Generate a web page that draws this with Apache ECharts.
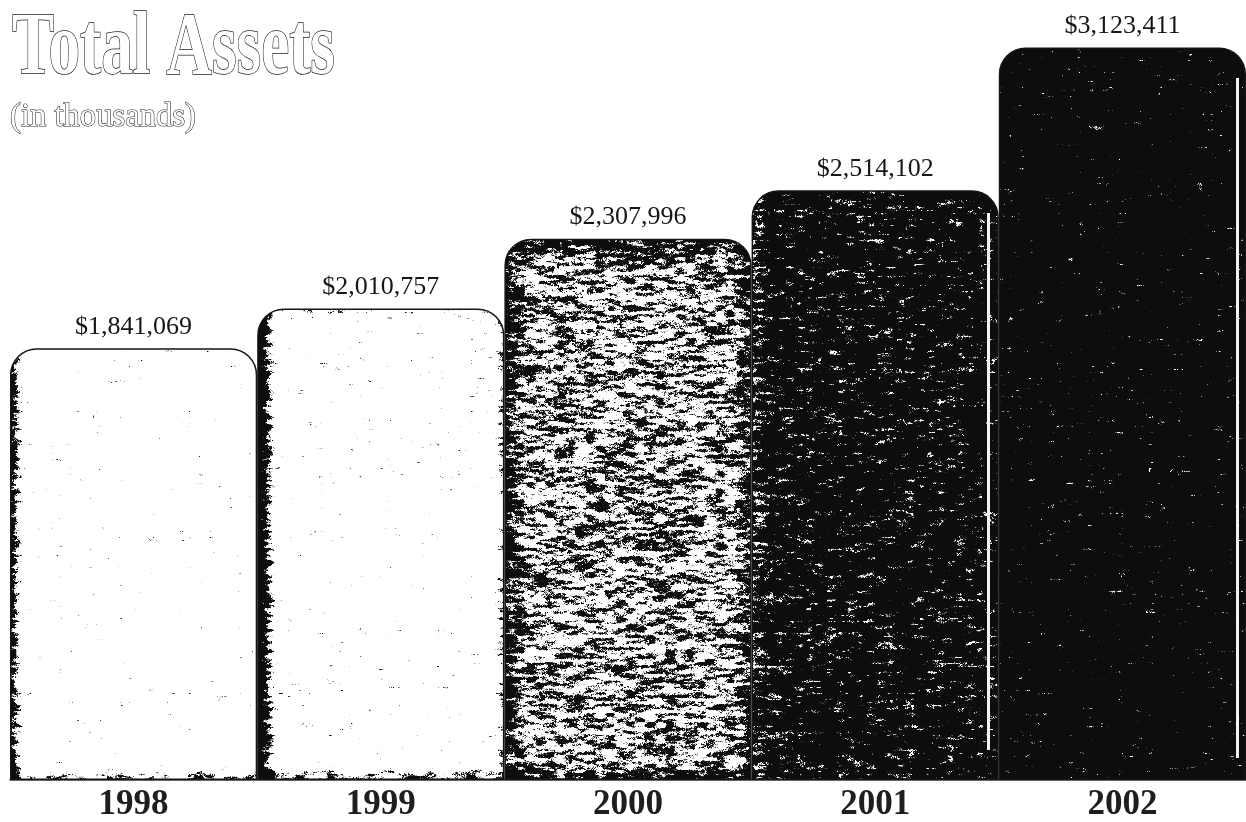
<!DOCTYPE html>
<html>
<head>
<meta charset="utf-8">
<script src="https://cdn.jsdelivr.net/npm/echarts@6/dist/echarts.min.js"></script>
<style>
  html, body { margin: 0; padding: 0; background: #fff; }
  #chart { width: 1246px; height: 822px; }
</style>
</head>
<body>
<div id="chart"></div>
<script>
// Total assets by year, in thousands of dollars
const years = ['1998', '1999', '2000', '2001', '2002'];
const totalAssets = [1841069, 2010757, 2307996, 2514102, 3123411];

// Printed-ink look of each column: base ink density plus darker bands near edges
const inkStyles = [
  { seed: 11, base: 0.10, left: 0.70, leftW: 13, right: 0.02, rightW: 8,  top: 0.04, topW: 10, bottom: 0.36, bottomW: 14, line: null },
  { seed: 23, base: 0.12, left: 0.95, leftW: 19, right: 0.30, rightW: 11, top: 0.14, topW: 14, bottom: 0.48, bottomW: 14, line: null },
  { seed: 37, base: 0.47, left: 0.24, leftW: 22, right: 0.18, rightW: 16, top: 0.24, topW: 28, bottom: 0.25, bottomW: 14, line: null },
  { seed: 41, base: 0.74, left: -0.16, leftW: 20, right: 0.0, rightW: 8,  top: 0.05, topW: 12, bottom: 0.0,  bottomW: 14, line: { fromRight: 11, top: 22, bottom: 30 } },
  { seed: 53, base: 0.85, left: 0.0,  leftW: 12, right: 0.0, rightW: 8,  top: 0.0,  topW: 12, bottom: 0.0,  bottomW: 14, line: { fromRight: 9, top: 30, bottom: 22 } }
];

const W = 1246, H = 822;
const chart = echarts.init(document.getElementById('chart'), null, { renderer: 'canvas', width: W, height: H });

function hash(x, y, s) {
  let h = (Math.imul(x, 374761393) + Math.imul(y, 668265263) + Math.imul(s, 1442695041)) | 0;
  h = Math.imul(h ^ (h >>> 13), 1274126177);
  h = h ^ (h >>> 16);
  return (h >>> 0) / 4294967296;
}
function vnoise(x, y, sx, sy, s) {
  const fx = x / sx, fy = y / sy;
  const ix = Math.floor(fx), iy = Math.floor(fy);
  const tx = fx - ix, ty = fy - iy;
  const a = hash(ix, iy, s), b = hash(ix + 1, iy, s), c = hash(ix, iy + 1, s), d = hash(ix + 1, iy + 1, s);
  const ux = tx * tx * (3 - 2 * tx), uy = ty * ty * (3 - 2 * ty);
  return a + (b - a) * ux + (c - a) * uy + (a - b - c + d) * ux * uy;
}

// Builds a full-size canvas holding the grainy ink for one column rectangle
function inkTexture(st, x0, x1, y0, y1) {
  const cv = document.createElement('canvas');
  cv.width = W; cv.height = H;
  const ctx = cv.getContext('2d');
  const img = ctx.createImageData(W, H);
  const px = img.data;
  const w = x1 - x0;
  for (let y = Math.max(0, Math.floor(y0)); y < Math.min(H, Math.ceil(y1)); y++) {
    for (let x = Math.max(0, Math.floor(x0)); x < Math.min(W, Math.ceil(x1)); x++) {
      const u = x - x0, v = y - y0, b = y1 - y;
      const t = 0.5 * vnoise(x, y, 10, 3, st.seed) + 0.3 * vnoise(x, y, 3, 1.5, st.seed + 7) + 0.2 * hash(x, y, st.seed + 13);
      const thr = st.base
        + st.left * Math.max(0, 1 - u / st.leftW)
        + st.right * Math.max(0, 1 - (w - u) / st.rightW)
        + st.top * Math.max(0, 1 - v / st.topW)
        + st.bottom * Math.max(0, 1 - b / st.bottomW);
      let g = Math.min(1, Math.max(0, (thr - t) * 10 + 0.5));
      if (st.line) {
        const lx = w - st.line.fromRight;
        if (Math.abs(u - lx) < 1.3 && v > st.line.top && b > st.line.bottom) g = 0.05;
      }
      const c = Math.round(255 - g * 242);
      const k = (y * W + x) * 4;
      px[k] = c; px[k + 1] = c; px[k + 2] = c; px[k + 3] = 255;
    }
  }
  ctx.putImageData(img, 0, 0);
  return cv;
}

function measure(text, font) {
  const c = document.createElement('canvas').getContext('2d');
  c.font = font;
  return c.measureText(text).width;
}

const titleFont = 'bold 88px "Liberation Serif"';
const subFont = '34px "Liberation Serif"';
const titleScale = 323 / measure('Total Assets', titleFont);
const subScale = 186 / measure('(in thousands)', subFont);

const baseColors = ['#f4f4f4', '#e4e4e4', '#7a7a7a', '#2a2a2a', '#111111'];

function buildOption(itemColors) {
  return {
    animation: false,
    backgroundColor: '#ffffff',
    grid: { left: 10, right: 0, top: 6, bottom: 42, containLabel: false },
    xAxis: {
      type: 'category',
      data: years,
      axisTick: { show: false },
      axisLine: { show: true, lineStyle: { color: '#333', width: 1.5 } },
      axisLabel: {
        margin: 7,
        fontFamily: 'Liberation Serif',
        fontWeight: 'bold',
        fontSize: 35,
        color: '#1e1e1e'
      }
    },
    yAxis: {
      type: 'value',
      min: 0,
      max: 3300000,
      show: false,
      splitLine: { show: false }
    },
    graphic: [
      {
        type: 'text', x: 12, y: 50, scaleX: titleScale,
        style: { text: 'Total Assets', font: titleFont, fill: '#ffffff', stroke: '#1a1a1a', lineWidth: 1.5, verticalAlign: 'middle', textVerticalAlign: 'middle' }
      },
      {
        type: 'text', x: 10, y: 117, scaleX: subScale,
        style: { text: '(in thousands)', font: subFont, fill: '#ffffff', stroke: '#1a1a1a', lineWidth: 1.1, verticalAlign: 'middle', textVerticalAlign: 'middle' }
      }
    ],
    series: [{
      type: 'bar',
      barCategoryGap: '0%',
      data: totalAssets.map((v, i) => ({
        value: v,
        itemStyle: { color: itemColors[i] }
      })),
      itemStyle: {
        borderColor: '#151515',
        borderWidth: 1.5,
        borderRadius: [26, 26, 0, 0]
      },
      label: {
        show: true,
        position: 'top',
        distance: 8,
        fontFamily: 'Liberation Serif',
        fontSize: 26,
        color: '#161616',
        formatter: p => '$' + p.value.toLocaleString('en-US')
      }
    }]
  };
}

chart.setOption(buildOption(baseColors));

// Column rectangles come from the chart's own axes
const x0px = chart.convertToPixel({ xAxisIndex: 0 }, 0);
const x1px = chart.convertToPixel({ xAxisIndex: 0 }, 1);
const band = x1px - x0px;
const basePx = chart.convertToPixel({ yAxisIndex: 0 }, 0);
const textures = totalAssets.map((v, i) => {
  const cx = chart.convertToPixel({ xAxisIndex: 0 }, i);
  const topPx = chart.convertToPixel({ yAxisIndex: 0 }, v);
  return { image: inkTexture(inkStyles[i], cx - band / 2, cx + band / 2, topPx, basePx), repeat: 'no-repeat' };
});
chart.setOption(buildOption(textures));
</script>
</body>
</html>
